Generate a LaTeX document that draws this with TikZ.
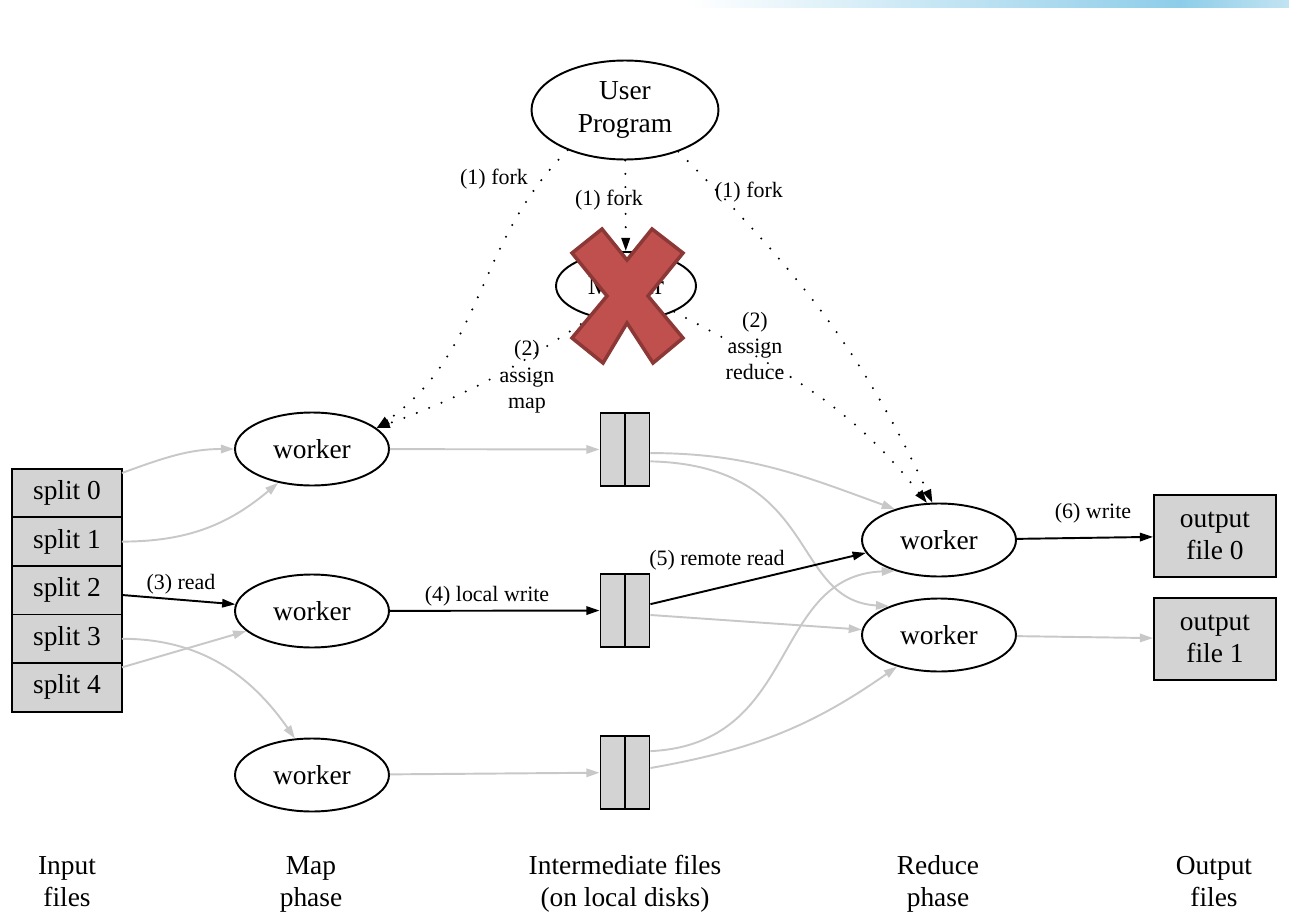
\documentclass[tikz,border=0pt]{standalone}
\usepackage{fontspec}
\setmainfont{Liberation Serif}
\usetikzlibrary{arrows.meta,positioning,shapes.geometric}
\definecolor{BoxGray}{HTML}{D3D3D3}
\definecolor{FadeGray}{HTML}{C8C8C8}
\definecolor{CrossRed}{HTML}{C0504D}
\definecolor{CrossRim}{HTML}{8C3836}
\definecolor{BarBlue}{HTML}{8DCDE9}
\definecolor{BarPale}{HTML}{C2E3F2}
\tikzset{
  worker/.style={draw, ellipse, line width=1.1pt, minimum width=3.08cm,
    minimum height=1.46cm, inner sep=0pt, align=center,
    font=\fontsize{15.6}{18.4}\selectfont},
  splitbox/.style={draw, fill=BoxGray, line width=1.1pt, minimum width=2.2cm,
    minimum height=0.972cm, outer sep=0pt, font=\fontsize{15.6}{18.4}\selectfont},
  outbox/.style={draw, fill=BoxGray, line width=1.1pt, minimum width=2.44cm,
    minimum height=1.64cm, inner sep=0pt, align=center,
    font=\fontsize{15.6}{18.4}\selectfont},
  diskbox/.style={draw, fill=BoxGray, line width=1.1pt, minimum width=0.98cm,
    minimum height=1.46cm, inner sep=0pt},
  phase/.style={align=center, inner sep=0pt, font=\fontsize{15.6}{18.4}\selectfont},
  lbl/.style={align=center, inner sep=1pt, font=\fontsize{12.5}{15}\selectfont},
  flow/.style={line width=1.1pt, -{Triangle[length=7.5pt,width=4.8pt]}},
  faded/.style={flow, draw=FadeGray},
  forkarr/.style={line width=1.3pt, line cap=round, dash pattern=on 0pt off 7.6pt,
    -{Triangle[length=7.5pt,width=4.8pt]}},
}

\begin{document}
\begin{tikzpicture}[x=0.02cm, y=0.02cm]
  \useasboundingbox (0,0) rectangle (1289,-916);
  \shade[left color=white, right color=BarBlue] (690,0) rectangle (1180,-7);
  \shade[left color=BarBlue, right color=BarPale] (1180,0) rectangle (1289,-7);

  % control nodes
  \node[worker, minimum width=3.74cm, minimum height=1.98cm] (user) at (625,-110) {User\\Program};
  \node[worker, minimum width=2.8cm, minimum height=1.36cm] (master) at (626,-286) {Master};

  % input splits
  \node[splitbox] (s0) at (67,-493) {split 0};
  \node[splitbox, below=0pt of s0] (s1) {split 1};
  \node[splitbox, below=0pt of s1] (s2) {split 2};
  \node[splitbox, below=0pt of s2] (s3) {split 3};
  \node[splitbox, below=0pt of s3] (s4) {split 4};

  % map workers
  \node[worker] (m0) at (312,-449) {worker};
  \node[worker] (m1) at (312,-611) {worker};
  \node[worker] (m2) at (312,-775) {worker};

  % intermediate files
  \foreach \i/\y in {0/449.5, 1/610.5, 2/772.5} {
    \node[diskbox] (d\i) at (625,-\y) {};
    \draw[line width=1.1pt] (d\i.north) -- (d\i.south);
  }

  % reduce workers and outputs
  \node[worker] (r0) at (939,-540) {worker};
  \node[worker] (r1) at (939,-635) {worker};
  \node[outbox] (o0) at (1215,-536) {output\\file 0};
  \node[outbox] (o1) at (1215,-639) {output\\file 1};

  % phase captions
  \node[phase] (capIn) at (67,-884) {\strut Input\\\strut files};
  \node[phase] (capMap) at (311,-884) {\strut Map\\\strut phase};
  \node[phase] (capMid) at (625,-884) {\strut Intermediate files\\\strut (on local disks)};
  \node[phase] (capRed) at (938,-884) {\strut Reduce\\\strut phase};
  \node[phase] (capOut) at (1214,-884) {\strut Output\\\strut files};

  % read
  \draw[faded] (s0.20) to[out=20,in=180] (m0.west);
  \draw[faded] (s1.east) to[out=0,in=220] (m0.225);
  \draw[flow] (s2.-5) -- (m1.175);
  \draw[faded] (s3.east) to[out=0,in=125] (m2.115);
  \draw[faded] (s4.20) -- (m1.197);

  % local write and remote read
  \draw[faded] (m0) -- (d0);
  \draw[flow] (m1) -- (d1);
  \draw[faded] (m2) -- (d2);
  \draw[faded] (d0.-8) to[out=0,in=160] (r0.145);
  \draw[faded] (d0.-25) .. controls +(170,-4) and +(-100,6) .. (r1.150);
  \draw[flow] (d1.14) -- (r0.190);
  \draw[faded] (d1.-10) -- (r1.176);
  \draw[faded] (d2.40) .. controls +(150,7) and +(-125,-5) .. (r0.215);
  \draw[faded] (d2.10) to[out=10,in=215] (r1.217);
  \draw[flow] (r0) -- (o0);
  \draw[faded] (r1) -- (o1);

  % fork and assign
  \draw[forkarr] (user.215) to[out=225,in=35] (m0.18);
  \draw[forkarr] (user) -- (master);
  \draw[forkarr] (user.-38) to[out=-45,in=115] (r0.100);
  \draw[forkarr] (master.222) to[out=214,in=20] (m0.18);
  \draw[forkarr] (master.-28) to[out=-28,in=128] (r0.108);

  % edge labels
  \node[lbl] (lRead) at (181,-584) {(3) read};
  \node[lbl] (lLocal) at (487,-596) {(4) local write};
  \node[lbl] (lRemote) at (717,-560) {(5) remote read};
  \node[lbl] (lWrite) at (1093,-513) {(6) write};
  \node[lbl] (lForkA) at (494,-179) {(1) fork};
  \node[lbl, fill=white] (lForkB) at (609,-200) {(1) fork};
  \node[lbl] (lForkC) at (749,-192) {(1) fork};
  \node[lbl] (lMap) at (527,-377) {(2)\\assign\\map};
  \node[lbl] (lReduce) at (755,-346) {(2)\\assign\\reduce};

  % cross over the master
  \filldraw[fill=CrossRed, draw=CrossRim, line width=2pt]
    (602,-229) -- (627,-260) -- (652,-229) -- (683,-253) -- (648,-296)
    -- (683,-338) -- (653,-363) -- (627,-323) -- (603,-363) -- (572,-338)
    -- (607,-296) -- (572,-253) -- cycle;
\end{tikzpicture}
\end{document}
